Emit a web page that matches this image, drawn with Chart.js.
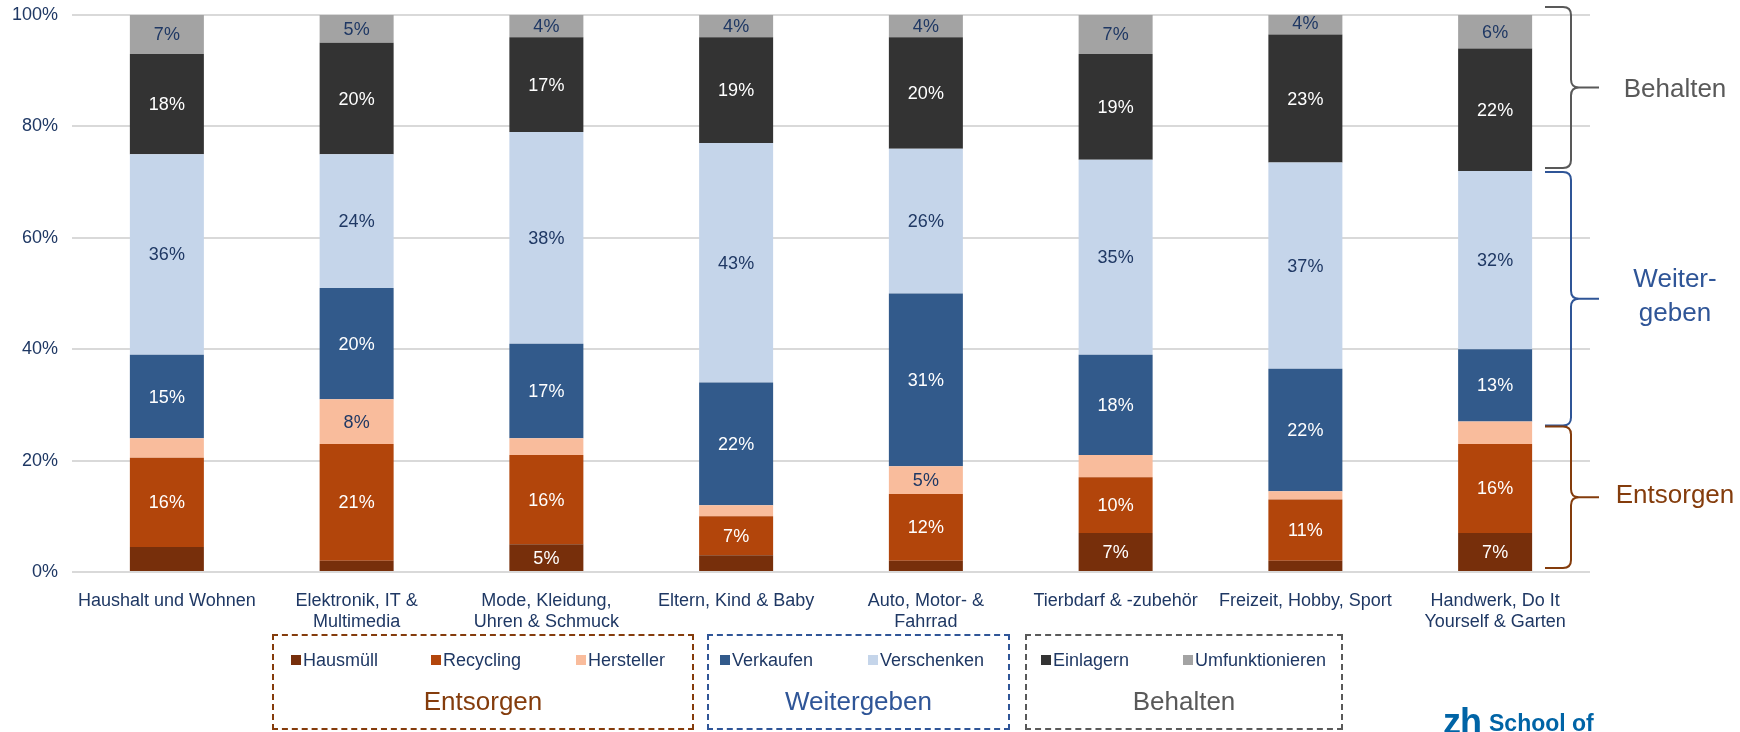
<!DOCTYPE html>
<html lang="de">
<head>
<meta charset="UTF-8">
<title>Was passiert mit nicht mehr genutzten Produkten?</title>
<script src="https://cdn.jsdelivr.net/npm/chart.js"></script>
<style>
  body { margin: 0; background: #fff; font-family: "Liberation Sans", Arial, sans-serif; }
  #wrap { position: relative; width: 1740px; height: 732px; overflow: hidden; }
  #chart { position: absolute; left: 0; top: 0; }
  .gruppe { position: absolute; top: 634px; height: 96px; border: 2px dashed; box-sizing: border-box; }
  .eintrag { position: absolute; top: 13px; font-size: 18px; color: #1f3864; white-space: nowrap; line-height: 22px; }
  .eintrag i { display: inline-block; width: 10px; height: 10px; margin-right: 2px; vertical-align: 1px; }
  .titel { position: absolute; left: 0; right: 0; top: 50px; text-align: center; font-size: 26px; line-height: 30px; }
  #logo { position: absolute; left: 1443px; top: 701px; color: #0064a6; font-weight: bold; white-space: nowrap; }
  #logo .zh { font-size: 36px; letter-spacing: -1px; }
  #logo .sub { font-size: 23px; margin-left: 8px; position: relative; top: -3px; }
</style>
</head>
<body>
<div id="wrap">
  <canvas id="chart" width="1740" height="732"></canvas>
  <div id="legende"></div>
  <div id="logo"><span class="zh">zh</span><span class="sub">School of</span></div>
</div>

<script>
// Kategorien (x-Achse), mehrzeilige Beschriftungen als Arrays
const kategorien = [
  'Haushalt und Wohnen',
  ['Elektronik, IT &', 'Multimedia'],
  ['Mode, Kleidung,', 'Uhren & Schmuck'],
  'Eltern, Kind & Baby',
  ['Auto, Motor- &', 'Fahrrad'],
  'Tierbdarf & -zubehör',
  'Freizeit, Hobby, Sport',
  ['Handwerk, Do It', 'Yourself & Garten']
];

// Anteile in Prozent je Kategorie
const hausmuell       = [4.5, 2, 5, 3, 2, 7, 2, 7];
const recycling       = [16, 21, 16, 7, 12, 10, 11, 16];
const hersteller      = [3.5, 8, 3, 2, 5, 4, 1.5, 4];
const verkaufen       = [15, 20, 17, 22, 31, 18, 22, 13];
const verschenken     = [36, 24, 38, 43, 26, 35, 37, 32];
const einlagern       = [18, 20, 17, 19, 20, 19, 23, 22];
const umfunktionieren = [7, 5, 4, 4, 4, 7, 4, 6];

const yTicks = [0, 20, 40, 60, 80, 100];

// Segmente ohne Prozentangabe (zu schmal)
const ohneBeschriftung = {
  'Hausmüll': [0, 1, 3, 4, 6],
  'Hersteller': [0, 2, 3, 5, 6, 7]
};

const serien = [
  { label: 'Hausmüll',        data: hausmuell,       farbe: '#772f0b', text: '#ffffff' },
  { label: 'Recycling',       data: recycling,       farbe: '#b2450b', text: '#ffffff' },
  { label: 'Hersteller',      data: hersteller,      farbe: '#f9bc9c', text: '#1f3864' },
  { label: 'Verkaufen',       data: verkaufen,       farbe: '#325a8b', text: '#ffffff' },
  { label: 'Verschenken',     data: verschenken,     farbe: '#c5d5ea', text: '#1f3864' },
  { label: 'Einlagern',       data: einlagern,       farbe: '#333333', text: '#ffffff' },
  { label: 'Umfunktionieren', data: umfunktionieren, farbe: '#a3a3a3', text: '#1f3864' }
];

const gruppen = [
  { titel: 'Entsorgen',   farbe: '#843c0c', serien: [0, 1, 2] },
  { titel: 'Weitergeben', farbe: '#2f5597', serien: [3, 4] },
  { titel: 'Behalten',    farbe: '#595959', serien: [5, 6] }
];

// Lage der Legendenkästen
const kastenLayout = [
  { links: 272,  breite: 422, eintragX: [17, 157, 302] },
  { links: 707,  breite: 303, eintragX: [11, 159] },
  { links: 1025, breite: 318, eintragX: [14, 156] }
];

Chart.defaults.font.family = '"Liberation Sans", Arial, sans-serif';

// Prozentwerte mittig in die Segmente schreiben
const segmentBeschriftung = {
  id: 'segmentBeschriftung',
  afterDatasetsDraw(chart) {
    const ctx = chart.ctx;
    ctx.save();
    ctx.font = '18px "Liberation Sans", Arial, sans-serif';
    ctx.textAlign = 'center';
    ctx.textBaseline = 'middle';
    chart.data.datasets.forEach((ds, i) => {
      const aus = ohneBeschriftung[ds.label] || [];
      chart.getDatasetMeta(i).data.forEach((bar, j) => {
        if (aus.includes(j)) return;
        ctx.fillStyle = ds.textFarbe;
        ctx.fillText(ds.data[j] + '%', bar.x, (bar.y + bar.base) / 2 + 1);
      });
    });
    ctx.restore();
  }
};

// geschweifte Klammern rechts neben dem letzten Balken
function klammer(ctx, x0, yA, yB, farbe) {
  const xv = x0 + 26, xs = x0 + 54, r = 8, ym = (yA + yB) / 2;
  ctx.strokeStyle = farbe;
  ctx.lineWidth = 2;
  ctx.beginPath();
  ctx.moveTo(x0, yA);
  ctx.lineTo(xv - r, yA);
  ctx.quadraticCurveTo(xv, yA, xv, yA + r);
  ctx.lineTo(xv, ym - r);
  ctx.quadraticCurveTo(xv, ym, xv + r, ym);
  ctx.lineTo(xs, ym);
  ctx.moveTo(xv + r, ym);
  ctx.quadraticCurveTo(xv, ym, xv, ym + r);
  ctx.lineTo(xv, yB - r);
  ctx.quadraticCurveTo(xv, yB, xv - r, yB);
  ctx.lineTo(x0, yB);
  ctx.stroke();
}

const klammern = {
  id: 'klammern',
  afterDraw(chart) {
    const ctx = chart.ctx;
    const y = chart.scales.y;
    const letzte = kategorien.length - 1;
    const x0 = chart.chartArea.right - 45;
    // Grenzen aus dem letzten Balken
    const summe = n => serien.slice(0, n).reduce((s, d) => s + d.data[letzte], 0);
    const gEnt = y.getPixelForValue(summe(3));
    const gWei = y.getPixelForValue(summe(5));
    const top = y.getPixelForValue(100) - 8;
    const bottom = y.getPixelForValue(0) - 4;
    ctx.save();
    klammer(ctx, x0, top, gWei - 3, gruppen[2].farbe);
    klammer(ctx, x0, gWei + 1, gEnt + 4, gruppen[1].farbe);
    klammer(ctx, x0, gEnt + 5, bottom, gruppen[0].farbe);

    ctx.font = '26px "Liberation Sans", Arial, sans-serif';
    ctx.textAlign = 'center';
    ctx.textBaseline = 'middle';
    const tx = 1675;
    ctx.fillStyle = gruppen[2].farbe;
    ctx.fillText('Behalten', tx, (top + gWei) / 2 + 1);
    ctx.fillStyle = gruppen[1].farbe;
    const mW = (gWei + gEnt) / 2;
    ctx.fillText('Weiter-', tx, mW - 16);
    ctx.fillText('geben', tx, mW + 18);
    ctx.fillStyle = gruppen[0].farbe;
    ctx.fillText('Entsorgen', tx, (gEnt + bottom) / 2 + 1);
    ctx.restore();
  }
};

const datasets = serien.map(s => ({
  label: s.label,
  data: s.data,
  backgroundColor: s.farbe,
  textFarbe: s.text,
  borderWidth: 0,
  categoryPercentage: 1,
  barPercentage: 0.39
}));

new Chart(document.getElementById('chart'), {
  type: 'bar',
  data: { labels: kategorien, datasets: datasets },
  options: {
    responsive: false,
    animation: false,
    layout: { padding: { top: 15, right: 150, left: 0, bottom: 0 } },
    plugins: { legend: { display: false }, tooltip: { enabled: false } },
    scales: {
      x: {
        stacked: true,
        grid: { display: false },
        border: { display: false },
        ticks: { color: '#1f3864', font: { size: 18 }, padding: 10, maxRotation: 0, autoSkip: false },
        afterFit: s => { s.height = 160; }
      },
      y: {
        stacked: true,
        min: 0,
        max: 100,
        afterBuildTicks: s => { s.ticks = yTicks.map(v => ({ value: v })); },
        ticks: { color: '#1f3864', font: { size: 18 }, padding: 14, callback: v => v + '%' },
        grid: { color: '#d9d9d9', lineWidth: 2, drawTicks: false },
        border: { display: false },
        afterFit: s => { s.width = 72; s.paddingTop = 0; s.paddingBottom = 0; }
      }
    }
  },
  plugins: [segmentBeschriftung, klammern]
});

// Legende in gestrichelten Gruppenkästen
const legende = document.getElementById('legende');
gruppen.forEach((g, gi) => {
  const lay = kastenLayout[gi];
  const kasten = document.createElement('div');
  kasten.className = 'gruppe';
  kasten.style.left = lay.links + 'px';
  kasten.style.width = lay.breite + 'px';
  kasten.style.borderColor = g.farbe;
  g.serien.forEach((si, k) => {
    const e = document.createElement('div');
    e.className = 'eintrag';
    e.style.left = lay.eintragX[k] + 'px';
    e.innerHTML = '<i style="background:' + serien[si].farbe + '"></i>' + serien[si].label;
    kasten.appendChild(e);
  });
  const t = document.createElement('div');
  t.className = 'titel';
  t.style.color = g.farbe;
  t.textContent = g.titel;
  kasten.appendChild(t);
  legende.appendChild(kasten);
});
</script>
</body>
</html>
